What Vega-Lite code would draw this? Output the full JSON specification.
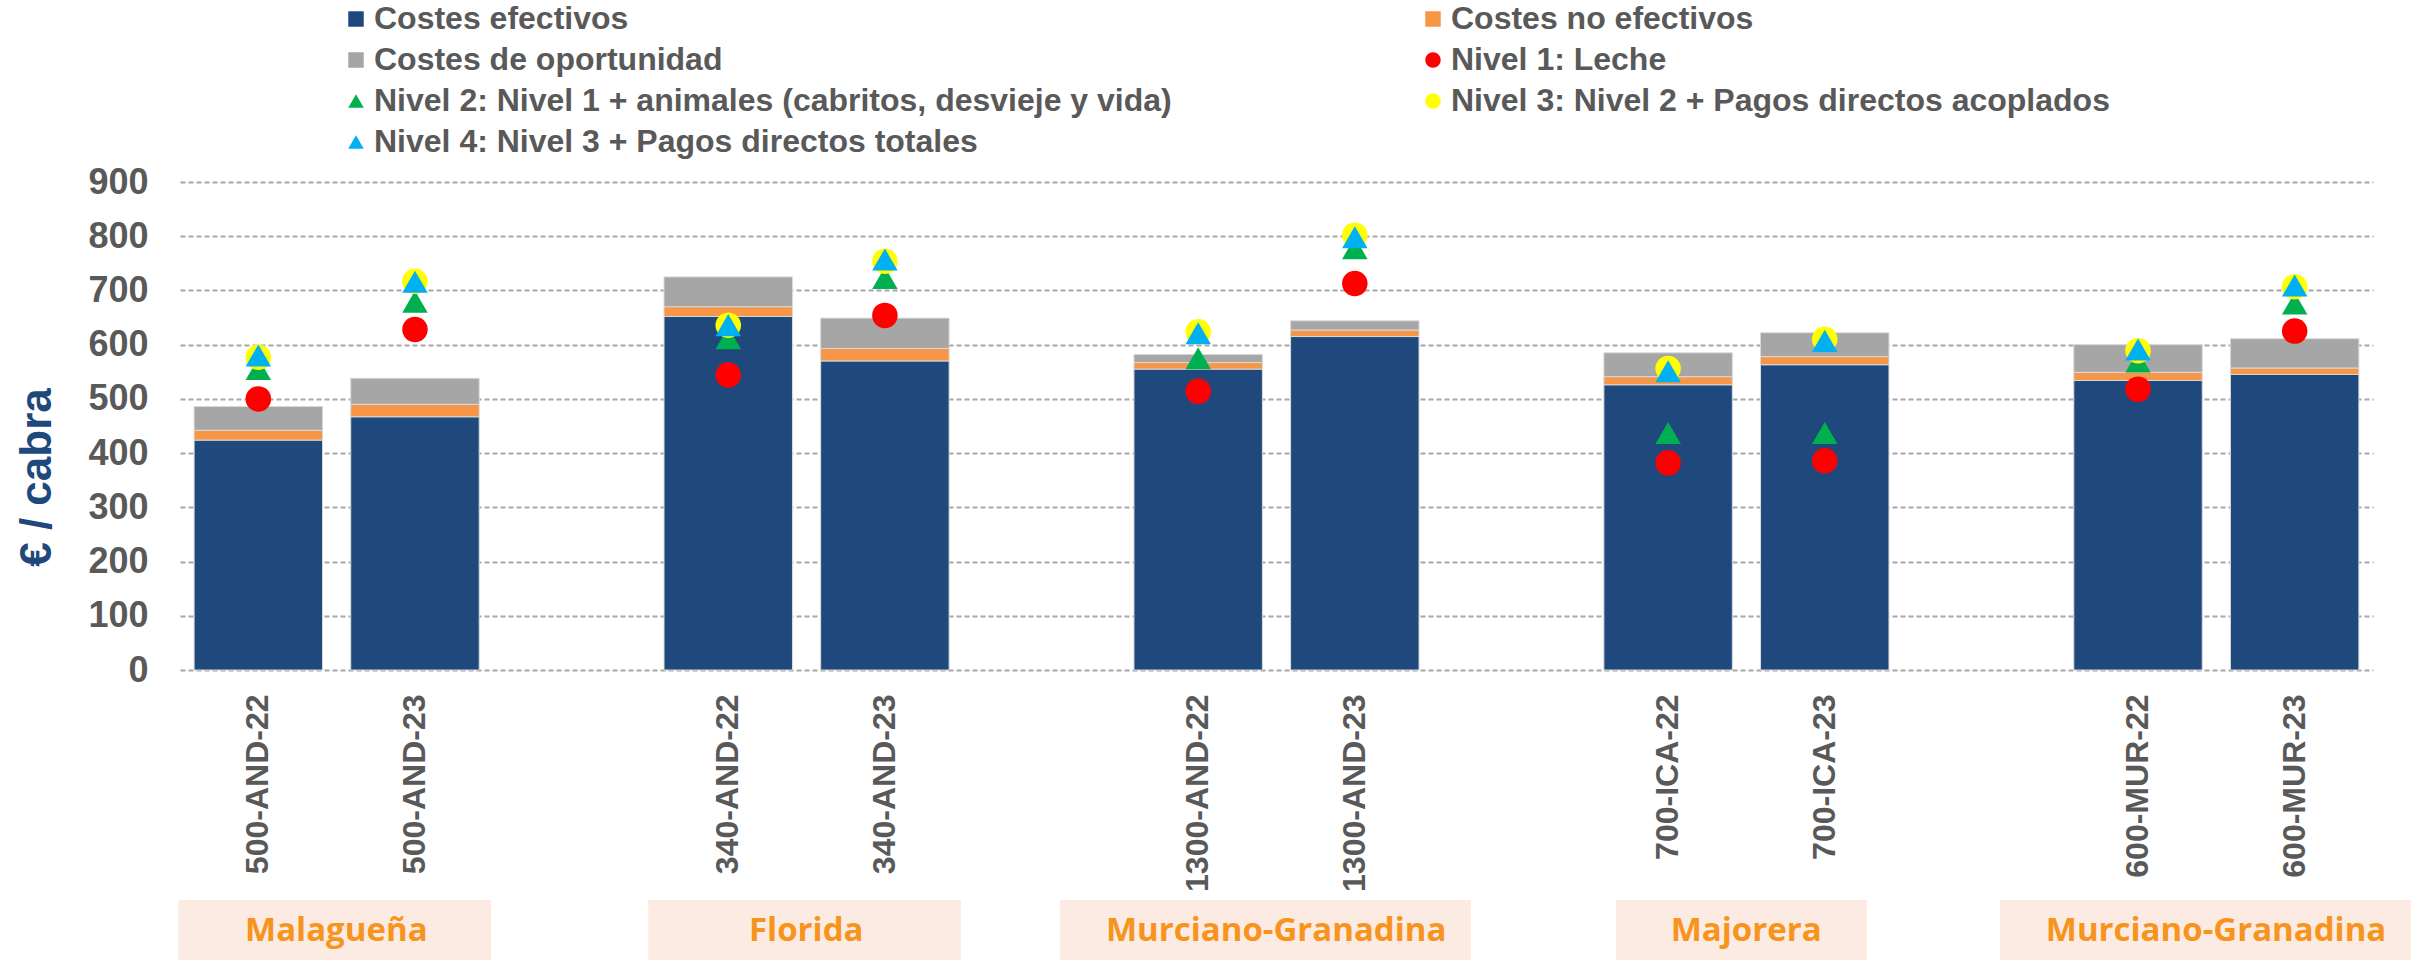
{
  "$schema": "https://vega.github.io/schema/vega-lite/v6.json",
  "padding": {"left": 15, "top": 3, "right": 0, "bottom": 0},
  "background": "white",
  "config": {
    "view": {"stroke": null},
    "font": "Liberation Sans",
    "concat": {"spacing": 8}
  },
  "datasets": {
    "costes": [
      {"finca": "500-AND-22", "serie": "Costes efectivos", "valor": 424},
      {"finca": "500-AND-22", "serie": "Costes no efectivos", "valor": 18},
      {"finca": "500-AND-22", "serie": "Costes de oportunidad", "valor": 44},
      {"finca": "500-AND-23", "serie": "Costes efectivos", "valor": 467},
      {"finca": "500-AND-23", "serie": "Costes no efectivos", "valor": 23},
      {"finca": "500-AND-23", "serie": "Costes de oportunidad", "valor": 48},
      {"finca": "340-AND-22", "serie": "Costes efectivos", "valor": 652},
      {"finca": "340-AND-22", "serie": "Costes no efectivos", "valor": 18},
      {"finca": "340-AND-22", "serie": "Costes de oportunidad", "valor": 55},
      {"finca": "340-AND-23", "serie": "Costes efectivos", "valor": 570},
      {"finca": "340-AND-23", "serie": "Costes no efectivos", "valor": 23},
      {"finca": "340-AND-23", "serie": "Costes de oportunidad", "valor": 56},
      {"finca": "1300-AND-22", "serie": "Costes efectivos", "valor": 555},
      {"finca": "1300-AND-22", "serie": "Costes no efectivos", "valor": 12},
      {"finca": "1300-AND-22", "serie": "Costes de oportunidad", "valor": 15},
      {"finca": "1300-AND-23", "serie": "Costes efectivos", "valor": 615},
      {"finca": "1300-AND-23", "serie": "Costes no efectivos", "valor": 12},
      {"finca": "1300-AND-23", "serie": "Costes de oportunidad", "valor": 17},
      {"finca": "700-ICA-22", "serie": "Costes efectivos", "valor": 526},
      {"finca": "700-ICA-22", "serie": "Costes no efectivos", "valor": 15},
      {"finca": "700-ICA-22", "serie": "Costes de oportunidad", "valor": 44},
      {"finca": "700-ICA-23", "serie": "Costes efectivos", "valor": 563},
      {"finca": "700-ICA-23", "serie": "Costes no efectivos", "valor": 15},
      {"finca": "700-ICA-23", "serie": "Costes de oportunidad", "valor": 44},
      {"finca": "600-MUR-22", "serie": "Costes efectivos", "valor": 534},
      {"finca": "600-MUR-22", "serie": "Costes no efectivos", "valor": 15},
      {"finca": "600-MUR-22", "serie": "Costes de oportunidad", "valor": 51},
      {"finca": "600-MUR-23", "serie": "Costes efectivos", "valor": 545},
      {"finca": "600-MUR-23", "serie": "Costes no efectivos", "valor": 12},
      {"finca": "600-MUR-23", "serie": "Costes de oportunidad", "valor": 54}
    ],
    "niveles": [
      {"finca": "500-AND-22", "serie": "Nivel 1: Leche", "valor": 500},
      {"finca": "500-AND-23", "serie": "Nivel 1: Leche", "valor": 628},
      {"finca": "340-AND-22", "serie": "Nivel 1: Leche", "valor": 544},
      {"finca": "340-AND-23", "serie": "Nivel 1: Leche", "valor": 654},
      {"finca": "1300-AND-22", "serie": "Nivel 1: Leche", "valor": 514},
      {"finca": "1300-AND-23", "serie": "Nivel 1: Leche", "valor": 713},
      {"finca": "700-ICA-22", "serie": "Nivel 1: Leche", "valor": 382},
      {"finca": "700-ICA-23", "serie": "Nivel 1: Leche", "valor": 386},
      {"finca": "600-MUR-22", "serie": "Nivel 1: Leche", "valor": 518},
      {"finca": "600-MUR-23", "serie": "Nivel 1: Leche", "valor": 625},
      {"finca": "500-AND-22", "serie": "Nivel 2: Nivel 1 + animales (cabritos, desvieje y vida)", "valor": 555},
      {"finca": "500-AND-23", "serie": "Nivel 2: Nivel 1 + animales (cabritos, desvieje y vida)", "valor": 679},
      {"finca": "340-AND-22", "serie": "Nivel 2: Nivel 1 + animales (cabritos, desvieje y vida)", "valor": 612},
      {"finca": "340-AND-23", "serie": "Nivel 2: Nivel 1 + animales (cabritos, desvieje y vida)", "valor": 723},
      {"finca": "1300-AND-22", "serie": "Nivel 2: Nivel 1 + animales (cabritos, desvieje y vida)", "valor": 575},
      {"finca": "1300-AND-23", "serie": "Nivel 2: Nivel 1 + animales (cabritos, desvieje y vida)", "valor": 778},
      {"finca": "700-ICA-22", "serie": "Nivel 2: Nivel 1 + animales (cabritos, desvieje y vida)", "valor": 437},
      {"finca": "700-ICA-23", "serie": "Nivel 2: Nivel 1 + animales (cabritos, desvieje y vida)", "valor": 437},
      {"finca": "600-MUR-22", "serie": "Nivel 2: Nivel 1 + animales (cabritos, desvieje y vida)", "valor": 569},
      {"finca": "600-MUR-23", "serie": "Nivel 2: Nivel 1 + animales (cabritos, desvieje y vida)", "valor": 676},
      {"finca": "500-AND-22", "serie": "Nivel 3: Nivel 2 + Pagos directos acoplados", "valor": 577},
      {"finca": "500-AND-23", "serie": "Nivel 3: Nivel 2 + Pagos directos acoplados", "valor": 717},
      {"finca": "340-AND-22", "serie": "Nivel 3: Nivel 2 + Pagos directos acoplados", "valor": 636},
      {"finca": "340-AND-23", "serie": "Nivel 3: Nivel 2 + Pagos directos acoplados", "valor": 754},
      {"finca": "1300-AND-22", "serie": "Nivel 3: Nivel 2 + Pagos directos acoplados", "valor": 624},
      {"finca": "1300-AND-23", "serie": "Nivel 3: Nivel 2 + Pagos directos acoplados", "valor": 802},
      {"finca": "700-ICA-22", "serie": "Nivel 3: Nivel 2 + Pagos directos acoplados", "valor": 556},
      {"finca": "700-ICA-23", "serie": "Nivel 3: Nivel 2 + Pagos directos acoplados", "valor": 610},
      {"finca": "600-MUR-22", "serie": "Nivel 3: Nivel 2 + Pagos directos acoplados", "valor": 589},
      {"finca": "600-MUR-23", "serie": "Nivel 3: Nivel 2 + Pagos directos acoplados", "valor": 707},
      {"finca": "500-AND-22", "serie": "Nivel 4: Nivel 3 + Pagos directos totales", "valor": 580},
      {"finca": "500-AND-23", "serie": "Nivel 4: Nivel 3 + Pagos directos totales", "valor": 716},
      {"finca": "340-AND-22", "serie": "Nivel 4: Nivel 3 + Pagos directos totales", "valor": 636},
      {"finca": "340-AND-23", "serie": "Nivel 4: Nivel 3 + Pagos directos totales", "valor": 757},
      {"finca": "1300-AND-22", "serie": "Nivel 4: Nivel 3 + Pagos directos totales", "valor": 621},
      {"finca": "1300-AND-23", "serie": "Nivel 4: Nivel 3 + Pagos directos totales", "valor": 798},
      {"finca": "700-ICA-22", "serie": "Nivel 4: Nivel 3 + Pagos directos totales", "valor": 551},
      {"finca": "700-ICA-23", "serie": "Nivel 4: Nivel 3 + Pagos directos totales", "valor": 607},
      {"finca": "600-MUR-22", "serie": "Nivel 4: Nivel 3 + Pagos directos totales", "valor": 591},
      {"finca": "600-MUR-23", "serie": "Nivel 4: Nivel 3 + Pagos directos totales", "valor": 709}
    ],
    "razas": [
      {"raza": "Malagueña", "desde": "500-AND-22", "hasta": "500-AND-23"},
      {"raza": "Florida", "desde": "340-AND-22", "hasta": "340-AND-23"},
      {"raza": "Murciano-Granadina", "desde": "1300-AND-22", "hasta": "1300-AND-23"},
      {"raza": "Majorera", "desde": "700-ICA-22", "hasta": "700-ICA-23"},
      {"raza": "Murciano-Granadina", "desde": "600-MUR-22", "hasta": "600-MUR-23"}
    ]
  },
  "vconcat": [
    {
      "width": 2193,
      "height": 488,
      "encoding": {
        "x": {
          "field": "finca",
          "type": "nominal",
          "sort": null,
          "scale": {
            "domain": ["500-AND-22", "500-AND-23", "hueco1", "340-AND-22", "340-AND-23", "hueco2", "1300-AND-22", "1300-AND-23", "hueco3", "700-ICA-22", "700-ICA-23", "hueco4", "600-MUR-22", "600-MUR-23"],
            "paddingInner": 0.18,
            "paddingOuter": 0.09
          },
          "axis": {
            "title": null,
            "labelAngle": 270,
            "labelExpr": "indexof(datum.value, 'hueco') >= 0 ? '' : datum.value",
            "labelFont": "Liberation Sans",
            "labelFontSize": 32,
            "labelFontWeight": "bold",
            "labelColor": "#595959",
            "labelPadding": 24,
            "ticks": false,
            "domain": false,
            "labelLimit": 400
          }
        }
      },
      "layer": [
        {
          "data": {"name": "costes"},
          "transform": [
            {"calculate": "indexof(['Costes efectivos', 'Costes no efectivos', 'Costes de oportunidad'], datum.serie)", "as": "orden"}
          ],
          "mark": {"type": "bar", "stroke": "#d9d9d9", "strokeWidth": 1},
          "encoding": {
            "y": {
              "field": "valor",
              "type": "quantitative",
              "stack": "zero",
              "scale": {"domain": [0, 900], "nice": false},
              "axis": {
                "title": "€ / cabra",
                "titleFont": "Liberation Sans",
                "titleFontSize": 44,
                "titleFontWeight": "bold",
                "titleColor": "#1F497D",
                "titlePadding": 28,
                "titleY": 295,
                "values": [0, 100, 200, 300, 400, 500, 600, 700, 800, 900],
                "labelFont": "Liberation Sans",
                "labelFontSize": 36,
                "labelFontWeight": "bold",
                "labelColor": "#595959",
                "labelPadding": 32,
                "ticks": false,
                "domain": false,
                "grid": true,
                "gridColor": "#A6A6A6",
                "gridDash": [5, 3],
                "gridWidth": 2
              }
            },
            "order": {"field": "orden", "type": "quantitative", "sort": "ascending"},
            "color": {
              "field": "serie",
              "type": "nominal",
              "scale": {
                "domain": ["Costes efectivos", "Costes no efectivos", "Costes de oportunidad", "Nivel 1: Leche", "Nivel 2: Nivel 1 + animales (cabritos, desvieje y vida)", "Nivel 3: Nivel 2 + Pagos directos acoplados", "Nivel 4: Nivel 3 + Pagos directos totales"],
                "range": ["#1F497D", "#F79646", "#A6A6A6", "#FF0000", "#00B050", "#FFFF00", "#00B0F0"]
              },
              "legend": {
                "title": null,
                "orient": "none",
                "legendX": 160,
                "legendY": -179,
                "direction": "horizontal",
                "columns": 2,
                "columnPadding": 245,
                "rowPadding": 9,
                "padding": 0,
                "symbolSize": 240,
                "symbolStrokeWidth": 0,
                "labelOffset": 2,
                "labelFont": "Liberation Sans",
                "labelFontSize": 32,
                "labelFontWeight": "bold",
                "labelColor": "#595959",
                "labelLimit": 1500
              }
            }
          }
        },
        {
          "data": {"name": "niveles"},
          "mark": {"type": "point", "filled": true, "opacity": 1, "size": 650},
          "encoding": {
            "y": {"field": "valor", "type": "quantitative"},
            "color": {"field": "serie", "type": "nominal"},
            "shape": {
              "field": "serie",
              "type": "nominal",
              "scale": {
                "domain": ["Costes efectivos", "Costes no efectivos", "Costes de oportunidad", "Nivel 1: Leche", "Nivel 2: Nivel 1 + animales (cabritos, desvieje y vida)", "Nivel 3: Nivel 2 + Pagos directos acoplados", "Nivel 4: Nivel 3 + Pagos directos totales"],
                "range": ["square", "square", "square", "circle", "triangle-up", "circle", "triangle-up"]
              }
            }
          }
        }
      ]
    },
    {
      "width": 2193,
      "height": 62,
      "data": {"name": "razas"},
      "encoding": {
        "x": {
          "field": "desde",
          "type": "nominal",
          "sort": null,
          "scale": {
            "domain": ["500-AND-22", "500-AND-23", "hueco1", "340-AND-22", "340-AND-23", "hueco2", "1300-AND-22", "1300-AND-23", "hueco3", "700-ICA-22", "700-ICA-23", "hueco4", "600-MUR-22", "600-MUR-23"],
            "paddingInner": 0.18,
            "paddingOuter": 0.09
          },
          "axis": null
        }
      },
      "layer": [
        {
          "transform": [{"filter": {"field": "raza", "oneOf": ["Malagueña", "Florida"]}}],
          "mark": {"type": "rect", "color": "#FBEBE2", "xOffset": -80, "x2Offset": 76},
          "encoding": {"x2": {"field": "hasta"}}
        },
        {
          "transform": [{"filter": {"field": "raza", "equal": "Majorera"}}],
          "mark": {"type": "rect", "color": "#FBEBE2", "xOffset": -52, "x2Offset": 42},
          "encoding": {"x2": {"field": "hasta"}}
        },
        {
          "transform": [{"filter": {"field": "raza", "equal": "Murciano-Granadina"}}],
          "mark": {"type": "rect", "color": "#FBEBE2", "xOffset": -138, "x2Offset": 116},
          "encoding": {"x2": {"field": "hasta"}}
        },
        {
          "mark": {"type": "text", "dx": 78, "font": "Open Sans", "fontSize": 33, "fontWeight": "bold", "color": "#F7941D", "align": "center", "baseline": "middle"},
          "encoding": {"text": {"field": "raza"}}
        }
      ]
    }
  ]
}
